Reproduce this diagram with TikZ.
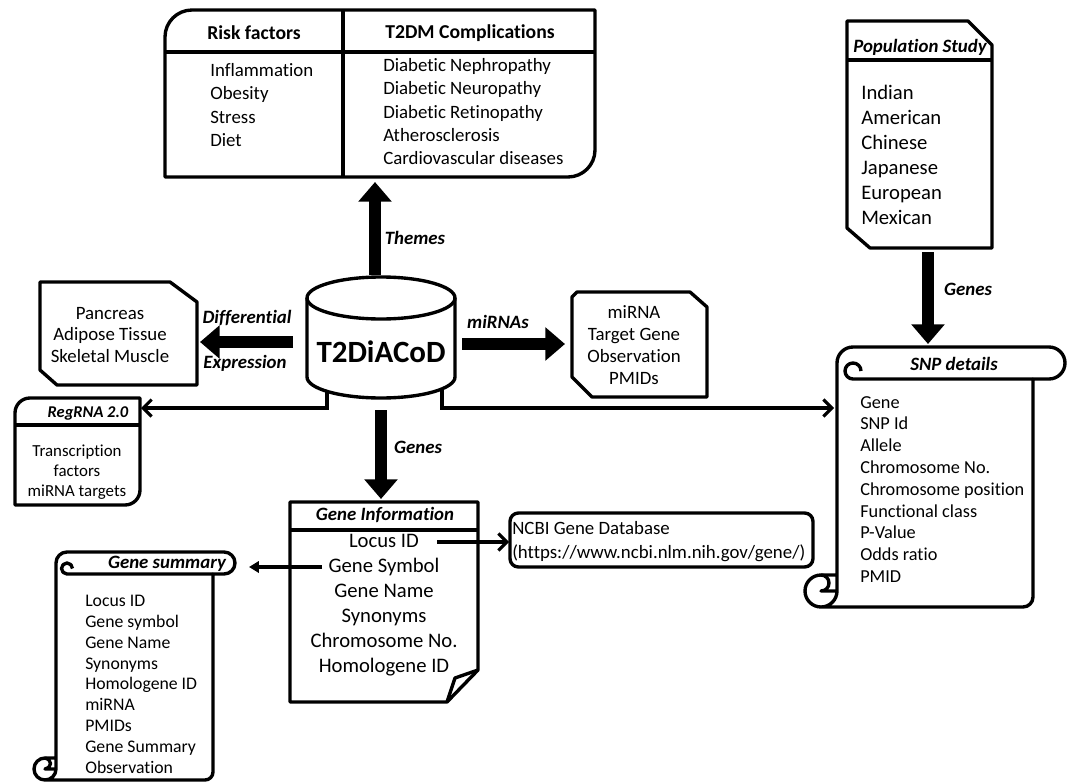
\documentclass[tikz,border=0pt]{standalone}
\usepackage{fontspec}
\setmainfont{Carlito}[Ligatures={NoCommon}]
\usetikzlibrary{arrows.meta}
\tikzstyle{bx}=[draw=black, line width=2.4pt, line join=round]
\tikzstyle{fat}=[line width=9pt, -{Triangle[length=14pt,width=23pt]}]
\tikzstyle{ln}=[line width=2.2pt, -{Straight Barb[length=6pt,width=12pt]}]
\tikzstyle{tt}=[inner sep=0pt, font=\fontsize{13.4}{16.6}\selectfont]
\tikzstyle{hd}=[inner sep=0pt, font=\fontsize{14}{17}\selectfont\bfseries]
\tikzstyle{hi}=[inner sep=0pt, font=\fontsize{13.4}{16}\selectfont\bfseries\itshape]
\tikzstyle{none}=[]

\begin{document}
\begin{tikzpicture}[x=0.025cm, y=-0.025cm]
    \useasboundingbox (0,0) rectangle (1072,782);
    % risk factors / complications
    \draw [style=bx] (165,177) -- (165,37) arc (180:270:27) -- (595,10) -- (595,150) arc (0:90:27) -- cycle;
    \draw [style=bx] (165,52) -- (595,52);
    \draw [style=bx] (343,10) -- (343,177);
    \node [style=hd] (1) at (254,33) {Risk factors};
    \node [style=hd] (2) at (470,33) {T2DM Complications};
    \node [style=tt, anchor=north west, align=left] (3) at (210,63) {Inflammation\\Obesity\\Stress\\Diet};
    \node [style=tt, anchor=north west, align=left] (4) at (383,58) {Diabetic Nephropathy\\Diabetic Neuropathy\\Diabetic Retinopathy\\Atherosclerosis\\Cardiovascular diseases};

    % database
    \draw [style=bx] (307,298) -- (307,377) arc (180:0:74 and 21) -- (455,298);
    \draw [style=bx] (381,298) ellipse (74 and 21);
    \node [style=none, inner sep=0pt, font=\fontsize{22}{26}\selectfont\bfseries] (0) at (381,352) {T2DiACoD};
    \coordinate (c0) at (375,275);
    \coordinate (c1) at (375,182);
    \coordinate (c2) at (327,391);
    \coordinate (c3) at (141,408);
    \coordinate (c4) at (442,389);
    \coordinate (c5) at (834,408);
    \coordinate (c6) at (293,342);
    \coordinate (c7) at (200,342);
    \coordinate (c8) at (462,344);
    \coordinate (c9) at (565,344);
    \coordinate (c10) at (381,410);
    \coordinate (c11) at (381,499);

    % tissues
    \draw [style=bx] (40,282) -- (170,282) -- (197,302) -- (197,385) -- (57,385) -- (40,370) -- cycle;
    \node [style=tt, align=center, font=\fontsize{13.4}{15.6}\selectfont] (5) at (110,335) {Pancreas\\Adipose Tissue\\Skeletal Muscle};

    % regrna
    \draw [style=bx] (15,505) -- (15,413) arc (180:270:15) -- (140,398) -- (140,490) arc (0:90:15) -- cycle;
    \draw [style=bx] (15,425) -- (140,425);
    \node [style=hi, font=\fontsize{11.7}{14}\selectfont\bfseries\itshape] (6) at (88,413) {RegRNA 2.0};
    \node [style=tt, align=center, font=\fontsize{12}{14.2}\selectfont] (7) at (77,472) {Transcription\\factors\\miRNA targets};

    % mirna
    \draw [style=bx] (572,297) -- (577,292) -- (690,292) -- (707,307) -- (707,397) -- (592,397) -- (572,377) -- cycle;
    \node [style=tt, align=center, font=\fontsize{13.4}{15.6}\selectfont] (8) at (634,345) {miRNA\\Target Gene\\Observation\\PMIDs};

    % population
    \draw [style=bx] (847,21) -- (968,21) -- (992,45) -- (992,248) -- (870,248) -- (847,228) -- cycle;
    \draw [style=bx] (847,60) -- (992,60);
    \node [style=hi] (9) at (920,47) {Population Study};
    \node [style=tt, anchor=north west, align=left, font=\fontsize{14.7}{17.8}\selectfont] (10) at (861,85) {Indian\\American\\Chinese\\Japanese\\European\\Mexican};
    \coordinate (c12) at (928,252);
    \coordinate (c13) at (928,344);

    % snp scroll
    \draw [style=bx] (837,575) -- (821,575) arc (270:90:16) arc (90:0:16) -- (837,363) arc (180:270:16) -- (1049,347) arc (270:450:16) -- (1033,379) -- (1033,597) arc (0:90:10) -- (821,607);
    \draw [style=bx] (1033,379) -- (853,379) arc (90:360:8);
    \draw [style=bx] (821,575) arc (270:450:8) -- (837,591);
    \node [style=hi] (11) at (954,364) {SNP details};
    \node [style=tt, anchor=north west, align=left, font=\fontsize{13}{15.5}\selectfont] (12) at (860,396) {Gene\\SNP Id\\Allele\\Chromosome No.\\Chromosome position\\Functional class\\P-Value\\Odds ratio\\PMID};

    % gene information
    \draw [style=bx] (290,502) -- (478,502) -- (478,670) -- (447,702) -- (290,702) -- cycle;
    \draw [style=bx] (478,670) -- (455,678) -- (447,702);
    \draw [style=bx] (290,530) -- (478,530);
    \node [style=hi] (13) at (385,515) {Gene Information};
    \node [style=tt, anchor=north, align=center, font=\fontsize{14.7}{17.8}\selectfont] (14) at (384,534) {Locus ID\\Gene Symbol\\Gene Name\\Synonyms\\Chromosome No.\\Homologene ID};
    \coordinate (c14) at (437,542);
    \coordinate (c15) at (509,542);
    \coordinate (c16) at (322,567);
    \coordinate (c17) at (249,567);

    % ncbi
    \draw [style=bx, rounded corners=6pt] (510,513) rectangle (813,567);
    \node [style=tt, anchor=north west, align=left, font=\fontsize{13.4}{17}\selectfont] (15) at (512,521) {NCBI Gene Database\\(https://www.ncbi.nlm.nih.gov/gene/)};

    % gene summary scroll
    \draw [style=bx] (56,758) -- (45,758) arc (270:90:11) arc (90:0:11) -- (56,563) arc (180:270:11) -- (224,552) arc (270:450:11) -- (213,574) -- (213,772) arc (0:90:8) -- (45,780);
    \draw [style=bx] (213,574) -- (67,574) arc (90:360:5.5);
    \draw [style=bx] (45,758) arc (270:450:5.5) -- (56,769);
    \node [style=hi] (16) at (167,564) {Gene summary};
    \node [style=tt, anchor=north west, align=left, font=\fontsize{12.6}{14.8}\selectfont] (17) at (85,595) {Locus ID\\Gene symbol\\Gene Name\\Synonyms\\Homologene ID\\miRNA\\PMIDs\\Gene Summary\\Observation};

    % arrows
    \draw [style=fat] (c0) to (c1);
    \draw [style=fat] (c6) to (c7);
    \draw [style=fat] (c8) to (c9);
    \draw [style=fat] (c10) to (c11);
    \draw [style=fat] (c12) to (c13);
    \draw [style=ln] (c2) |- (c3);
    \draw [style=ln] (c4) |- (c5);
    \draw [style=ln] (c14) to (c15);
    \draw [line width=2.2pt, -{Triangle[length=7pt,width=8pt]}] (c16) to (c17);

    % labels
    \node [style=hi] (18) at (415,238) {Themes};
    \node [style=hi] (19) at (247,318) {Differential};
    \node [style=hi] (20) at (245,363) {Expression};
    \node [style=hi] (21) at (498,322) {miRNAs};
    \node [style=hi] (22) at (418,447) {Genes};
    \node [style=hi] (23) at (968,289) {Genes};
\end{tikzpicture}
\end{document}
